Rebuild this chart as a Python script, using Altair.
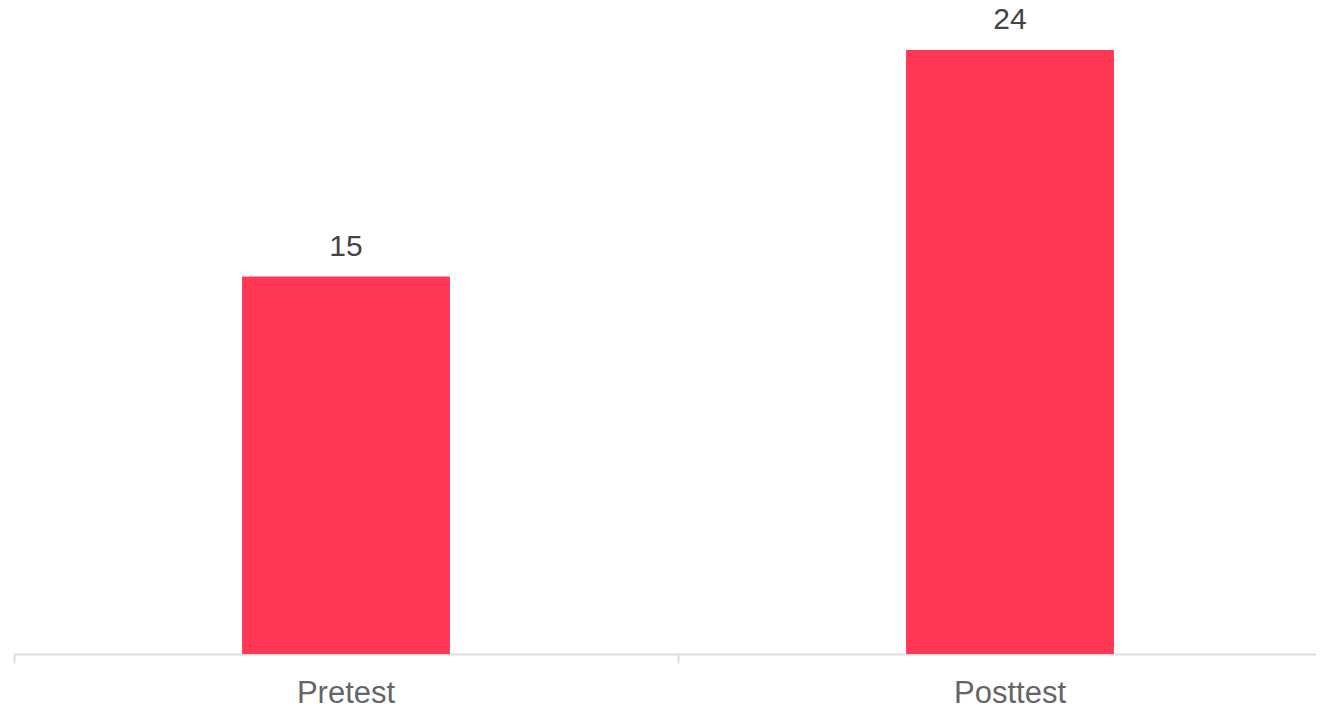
import altair as alt
import pandas as pd

categories = ["Pretest", "Posttest"]
values = [15, 24]

df = pd.DataFrame({"cat": categories, "val": values})

base = alt.Chart(df).encode(
    x=alt.X("cat:N", sort=categories, title=None,
            scale=alt.Scale(paddingInner=0, paddingOuter=0, range=[0, 1328]),
            axis=alt.Axis(labelAngle=0, bandPosition=0, domainColor="#dddddd",
                          tickColor="#dddddd", tickSize=9, labelFont="Liberation Sans",
                          labelFontSize=31, labelColor="#666666", labelPadding=15,
                          labelBound=False, labelFlush=False, domainWidth=2, tickWidth=2)),
    y=alt.Y("val:Q", scale=alt.Scale(domain=[0, 24], nice=False), axis=None),
)

bars = base.mark_bar(color="#FF3654", width=alt.RelativeBandSize(0.313))
labels = base.mark_text(baseline="bottom", dy=-15, font="Liberation Sans",
                        fontSize=30, color="#444444").encode(text="val:Q")

chart = (bars + labels).properties(
    width=1302, height=604,
    autosize=alt.AutoSizeParams(type="none"),
    padding={"left": 6, "top": 42, "right": 0, "bottom": 54},
).configure_view(stroke=None)

chart.save("out.html", embed_options={"renderer": "svg", "actions": False})
